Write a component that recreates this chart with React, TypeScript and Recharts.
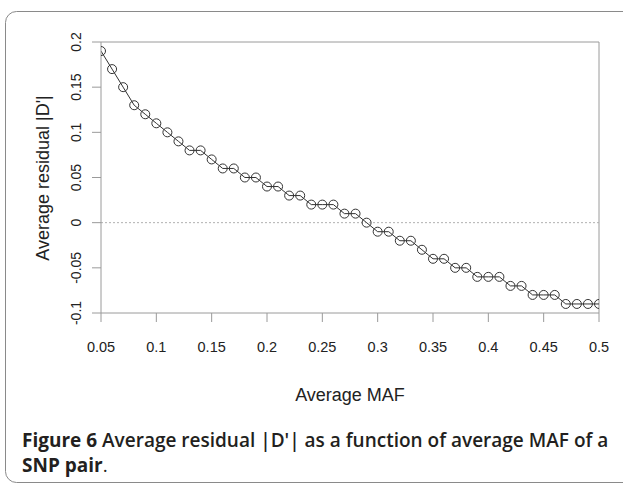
import { LineChart, Line, XAxis, YAxis, ReferenceLine } from 'recharts';

const mafValues = [
  0.05, 0.06, 0.07, 0.08, 0.09, 0.1, 0.11, 0.12, 0.13, 0.14,
  0.15, 0.16, 0.17, 0.18, 0.19, 0.2, 0.21, 0.22, 0.23, 0.24,
  0.25, 0.26, 0.27, 0.28, 0.29, 0.3, 0.31, 0.32, 0.33, 0.34,
  0.35, 0.36, 0.37, 0.38, 0.39, 0.4, 0.41, 0.42, 0.43, 0.44,
  0.45, 0.46, 0.47, 0.48, 0.49, 0.5,
];

const residualValues = [
  0.19, 0.17, 0.15, 0.13, 0.12, 0.11, 0.1, 0.09, 0.08, 0.08,
  0.07, 0.06, 0.06, 0.05, 0.05, 0.04, 0.04, 0.03, 0.03, 0.02,
  0.02, 0.02, 0.01, 0.01, 0, -0.01, -0.01, -0.02, -0.02, -0.03,
  -0.04, -0.04, -0.05, -0.05, -0.06, -0.06, -0.06, -0.07, -0.07, -0.08,
  -0.08, -0.08, -0.09, -0.09, -0.09, -0.09,
];

const xTicks = [0.05, 0.1, 0.15, 0.2, 0.25, 0.3, 0.35, 0.4, 0.45, 0.5];
const yTicks = [-0.1, -0.05, 0, 0.05, 0.1, 0.15, 0.2];
const xTickLabels = ['0.05', '0.1', '0.15', '0.2', '0.25', '0.3', '0.35', '0.4', '0.45', '0.5'];
const yTickLabels = ['-0.1', '-0.05', '0', '0.05', '0.1', '0.15', '0.2'];

const data = mafValues.map((maf, i) => ({ maf, residual: residualValues[i] }));

const FONT = '"Liberation Sans", Arial, Helvetica, sans-serif';
const CAPTION_FONT = '"Open Sans", "Noto Sans", sans-serif';
const AXIS = '#9a9a9a';

function YTick({ y, payload }: any) {
  const label = yTickLabels[yTicks.indexOf(payload.value)] ?? String(payload.value);
  return (
    <text x={76} y={y} transform={`rotate(-90, 76, ${y})`} textAnchor="middle" dominantBaseline="central" fontSize={14} fill="#222" fontFamily={FONT}>
      {label}
    </text>
  );
}

function XTick({ x, payload }: any) {
  const label = xTickLabels[xTicks.indexOf(payload.value)] ?? String(payload.value);
  return (
    <text x={x} y={352} textAnchor="middle" fontSize={14.5} fill="#222" fontFamily={FONT}>
      {label}
    </text>
  );
}

export default function App() {
  return (
    <div style={{ position: 'fixed', left: 0, top: 0, width: 623, height: 484, background: '#fff' }}>
      <svg width={623} height={484} style={{ position: 'absolute', left: 0, top: 0 }}>
        <rect x={5.5} y={11.5} width={640} height={471} rx={11} fill="none" stroke="#8a8a8a" strokeWidth={1} />
        <text x={22} y={447} fontSize={19} fill="#231f20" fontFamily={CAPTION_FONT}>
          <tspan fontWeight={700}>Figure 6</tspan>
          <tspan fontWeight={600}> Average residual |D'| as a function of average MAF of a</tspan>
        </text>
        <text x={22} y={472} fontSize={19} fill="#231f20" fontFamily={CAPTION_FONT}>
          <tspan fontWeight={700}>SNP pair</tspan>
          <tspan fontWeight={400}>.</tspan>
        </text>
      </svg>
      <div style={{ position: 'absolute', left: 0, top: 0 }}>
        <LineChart width={623} height={484} data={data} margin={{ top: 42, right: 24, left: 0, bottom: 0 }}>
          <XAxis
            dataKey="maf"
            type="number"
            domain={[0.05, 0.5]}
            ticks={xTicks}
            height={171}
            stroke={AXIS}
            tickSize={9}
            tick={<XTick />}
            interval={0}
            allowDataOverflow
          />
          <YAxis
            type="number"
            domain={[-0.1, 0.2]}
            ticks={yTicks}
            width={101}
            stroke={AXIS}
            tickSize={9}
            tick={<YTick />}
            interval={0}
            allowDataOverflow
          />
          <ReferenceLine y={0.2} stroke={AXIS} />
          <ReferenceLine x={0.5} stroke={AXIS} />
          <ReferenceLine y={0} stroke="#b0b0b0" strokeDasharray="2 2" />
          <Line
            dataKey="residual"
            stroke="#333"
            strokeWidth={1}
            dot={{ r: 4.5, stroke: '#333', strokeWidth: 1, fill: 'none' }}
            isAnimationActive={false}
          />
        </LineChart>
      </div>
      <svg width={623} height={484} style={{ position: 'absolute', left: 0, top: 0, pointerEvents: 'none' }}>
        <text x={350} y={401} textAnchor="middle" fontSize={18} fill="#222" fontFamily={FONT}>
          Average MAF
        </text>
        <text x={43} y={178} transform="rotate(-90, 43, 178)" textAnchor="middle" dominantBaseline="central" fontSize={18} fill="#222" fontFamily={FONT}>
          Average residual |D'|
        </text>
      </svg>
    </div>
  );
}
